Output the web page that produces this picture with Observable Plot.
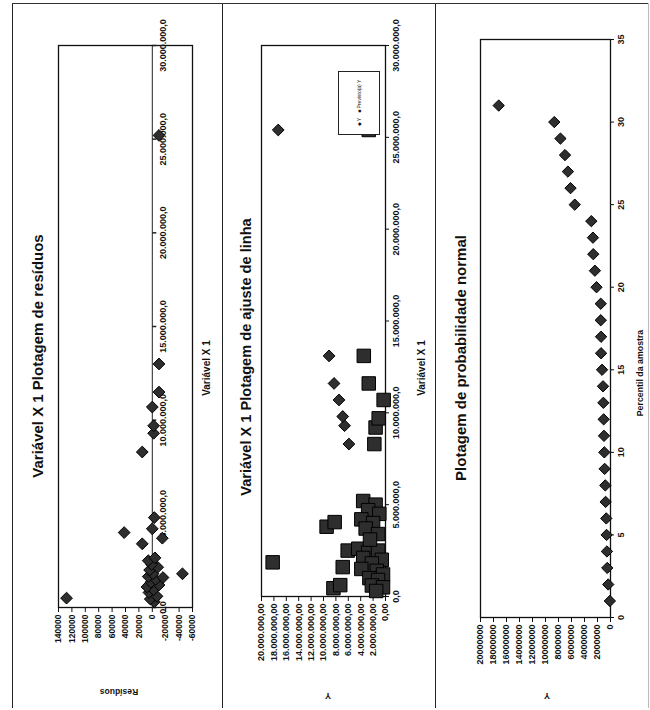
<!DOCTYPE html>
<html><head><meta charset="utf-8">
<script src="https://cdn.jsdelivr.net/npm/d3@7"></script>
<script src="https://cdn.jsdelivr.net/npm/@observablehq/plot@0.6"></script>
<style>
html,body{margin:0;padding:0;background:#fff;width:650px;height:710px;overflow:hidden;font-family:"Liberation Sans",Arial,sans-serif;}
#page{position:relative;width:650px;height:710px;background:#fff;}
.chart{position:absolute;top:3px;width:705px;transform-origin:0 0;transform:translate(0,705px) rotate(-90deg);background:#fff;}
.chart svg{position:absolute;left:0;top:0;}
.chart svg text{font-weight:bold;}
.lbl{position:absolute;white-space:nowrap;transform:translate(-50%,-50%);font-weight:bold;color:#111;line-height:1;}
.lbl.rot{transform:translate(-50%,-50%) rotate(-90deg);}
.vline{position:absolute;top:3px;height:705px;width:0;border-left:1.6px solid #222;}
.hline{position:absolute;left:12px;top:3px;width:636px;height:0;border-top:1.5px solid #333;}
.legend{position:absolute;border:1px solid #222;background:#fff;display:flex;align-items:center;justify-content:center;gap:5px;font-size:5px;color:#111;}
.legend span{white-space:nowrap;}
</style>
</head>
<body>
<div id="page"></div>
<script>
// ---------- DATA ----------
// Chart 1: Variável X 1 Plotagem de resíduos
const resX = [300000, 450000, 600000, 800000, 950000, 1100000, 1200000, 1350000, 1500000, 1650000,
  1800000, 2000000, 2150000, 2300000, 2500000, 2650000, 500000, 1800000, 1600000, 3400000,
  4000000, 4200000, 3700000, 4800000, 8300000, 9300000, 9700000, 10700000, 11500000, 13000000, 25200000];
const resVal = [-3000, 3000, -7000, 5000, -2000, 8000, -10000, 2000, -5000, 6000,
  -1000, 4000, -8000, 1000, 6000, -4000, 128000, -45000, -16000, 15000,
  42000, 0, -15000, -3000, 15000, -2000, -2000, 0, -10000, -10000, -10000];
const resXTicks = [0, 5000000, 10000000, 15000000, 20000000, 25000000, 30000000];
const resYTicks = [-60000, -40000, -20000, 0, 20000, 40000, 60000, 80000, 100000, 120000, 140000];

// Chart 2: Variável X 1 Plotagem de ajuste de linha
const fitYX = [8300000, 9300000, 9800000, 10700000, 11600000, 13100000, 25400000];
const fitY  = [5900000, 6600000, 6900000, 7500000, 8300000, 9100000, 17300000];
const fitPX = [1860000, 450000, 620000, 1600000, 2500000, 3800000, 4050000,
  8300000, 9200000, 9700000, 10700000, 11600000, 13100000, 25400000,
  2600000, 2400000, 2500000, 2100000, 2000000, 1800000, 1500000, 1400000, 1200000, 1000000, 900000, 600000, 500000, 300000,
  5200000, 5000000, 4700000, 4500000, 4200000, 4000000, 3700000, 3400000, 3100000];
const fitP  = [18200000, 8400000, 7300000, 6900000, 6100000, 9500000, 8200000,
  1800000, 1600000, 1100000, 300000, 2700000, 3500000, 2700000,
  4400000, 2800000, 1200000, 3600000, 600000, 2200000, 3900000, 1400000, 400000, 2600000, 1200000, 2200000, 400000, 1500000,
  3600000, 1600000, 2800000, 1000000, 3900000, 2000000, 3200000, 1200000, 2500000];
const fitXTicks = [0, 5000000, 10000000, 15000000, 20000000, 25000000, 30000000];
const fitYTicks = [0, 2000000, 4000000, 6000000, 8000000, 10000000, 12000000, 14000000, 16000000, 18000000, 20000000];
const fitSeries = ["Y", "Previsto(a) Y"];

// Chart 3: Plotagem de probabilidade normal
const pctl = [1, 2, 3, 4, 5, 6, 7, 8, 9, 10, 11, 12, 13, 14, 15, 16, 17, 18, 19, 20, 21, 22, 23, 24, 25, 26, 27, 28, 29, 30, 31];
const probY = [100000, 350000, 500000, 550000, 600000, 650000, 750000, 800000, 900000, 950000,
  1000000, 1050000, 1100000, 1150000, 1300000, 1450000, 1450000, 1500000, 1500000, 2150000,
  2400000, 2650000, 2700000, 2950000, 5500000, 6150000, 6550000, 7000000, 7700000, 8650000, 17200000];
const probXTicks = [0, 5, 10, 15, 20, 25, 30, 35];
const probYTicks = [0, 2000000, 4000000, 6000000, 8000000, 10000000, 12000000, 14000000, 16000000, 18000000, 20000000];

// ---------- HELPERS ----------
const ptBR = d3.formatLocale({decimal: ",", thousands: ".", grouping: [3], currency: ["R$", ""]});
const fmt1 = ptBR.format(",.1f");
const fmt2 = ptBR.format(",.2f");
const plain = d => String(d);
const FONT = '"Liberation Sans", Arial, sans-serif';
const W = 705;
const page = document.getElementById("page");
const tickDown = {draw(ctx) { ctx.moveTo(0, 0); ctx.lineTo(0, 4); }};
const markerFill = "#2e2e2e";

function makeChart(left, height, svg, labels) {
  const div = document.createElement("div");
  div.className = "chart";
  div.style.left = left + "px";
  div.style.height = height + "px";
  div.appendChild(svg);
  for (const l of labels) {
    const e = document.createElement("div");
    e.className = "lbl" + (l.rot ? " rot" : "");
    e.textContent = l.text;
    e.style.left = l.u + "px";
    e.style.top = l.v + "px";
    e.style.fontSize = l.size + "px";
    div.appendChild(e);
  }
  page.appendChild(div);
  return div;
}

function baseStyle(size) {
  return {fontFamily: FONT, fontSize: size + "px", color: "#111", background: "white", overflow: "visible"};
}

// ---------- CHART 1 ----------
const resData = resX.map((x, i) => ({x, r: resVal[i]}));
const c1 = Plot.plot({
  width: W, height: 210,
  marginLeft: 100, marginRight: 43, marginTop: 46, marginBottom: 30,
  style: baseStyle(8.5),
  x: {domain: [0, 30000000], axis: null},
  y: {domain: [-60000, 140000], ticks: resYTicks, tickFormat: plain, label: null, tickSize: 4, tickPadding: 3},
  marks: [
    Plot.frame({stroke: "#111", strokeWidth: 1.3}),
    Plot.ruleY([0], {stroke: "#222", strokeWidth: 1}),
    Plot.dot(resXTicks, {x: d => d, y: () => 0, symbol: tickDown, fill: "none", stroke: "#222"}),
    Plot.text(resXTicks, {x: d => d, y: () => 0, text: d => fmt1(d), dy: 11, fontSize: 9, fill: "#111"}),
    Plot.dot(resData, {x: "x", y: "r", symbol: "diamond2", r: 5.3, fill: markerFill, stroke: "#000", strokeWidth: 1})
  ]
});
makeChart(12, 210, c1, [
  {text: "Variável X 1 Plotagem de resíduos", u: 352, v: 25, size: 15},
  {text: "Variável X 1", u: 340, v: 195, size: 10},
  {text: "Resíduos", u: 16, v: 107, size: 8.5, rot: true}
]);

// ---------- CHART 2 ----------
const fitObs = fitYX.map((x, i) => ({x, y: fitY[i], s: fitSeries[0]}));
const fitPred = fitPX.map((x, i) => ({x, y: fitP[i], s: fitSeries[1]}));
const c2 = Plot.plot({
  width: W, height: 212,
  marginLeft: 111, marginRight: 43, marginTop: 38, marginBottom: 50,
  style: baseStyle(9),
  x: {domain: [0, 30000000], ticks: fitXTicks, tickFormat: fmt1, label: null, tickSize: 4, tickPadding: 3},
  y: {domain: [0, 20000000], ticks: fitYTicks, tickFormat: fmt2, label: null, tickSize: 4, tickPadding: 3},
  marks: [
    Plot.frame({stroke: "#111", strokeWidth: 1.3}),
    Plot.dot(fitObs, {x: "x", y: "y", symbol: "diamond2", r: 5.3, fill: markerFill, stroke: "#000", strokeWidth: 1}),
    Plot.dot(fitPred, {x: "x", y: "y", symbol: "square", r: 7.6, fill: markerFill, stroke: "#000", strokeWidth: 1})
  ]
});
const d2 = makeChart(223, 212, c2, [
  {text: "Variável X 1 Plotagem de ajuste de linha", u: 351, v: 23, size: 14.6},
  {text: "Variável X 1", u: 340, v: 199, size: 10},
  {text: "Y", u: 13, v: 105, size: 9, rot: true}
]);
const lg = document.createElement("div");
lg.className = "legend";
lg.style.left = "573px"; lg.style.top = "115px"; lg.style.width = "62px"; lg.style.height = "40px";
lg.innerHTML = `<span>&#9670; ${fitSeries[0]}</span><span>&#9632; ${fitSeries[1]}</span>`;
d2.appendChild(lg);

// ---------- CHART 3 ----------
const probData = pctl.map((p, i) => ({p, y: probY[i]}));
const c3 = Plot.plot({
  width: W, height: 213,
  marginLeft: 90, marginRight: 37, marginTop: 45, marginBottom: 38,
  style: baseStyle(9),
  x: {domain: [0, 35], ticks: probXTicks, tickFormat: plain, label: null, tickSize: 4, tickPadding: 3},
  y: {domain: [0, 20000000], ticks: probYTicks, tickFormat: plain, label: null, tickSize: 4, tickPadding: 3},
  marks: [
    Plot.frame({stroke: "#111", strokeWidth: 1.3}),
    Plot.dot(probData, {x: "p", y: "y", symbol: "diamond2", r: 5.1, fill: markerFill, stroke: "#000", strokeWidth: 1})
  ]
});
makeChart(435, 213, c3, [
  {text: "Plotagem de probabilidade normal", u: 350, v: 25, size: 15},
  {text: "Percentil da amostra", u: 335, v: 205, size: 8.8},
  {text: "Y", u: 13, v: 112, size: 9, rot: true}
]);

// ---------- PAGE FRAME ----------
for (const x of [12, 222, 435]) {
  const l = document.createElement("div");
  l.className = "vline"; l.style.left = x + "px";
  page.appendChild(l);
}
const r = document.createElement("div");
r.className = "vline"; r.style.left = "648px"; r.style.borderLeftColor = "#bbb"; r.style.borderLeftWidth = "1px";
page.appendChild(r);
const h = document.createElement("div");
h.className = "hline";
page.appendChild(h);
</script>
</body></html>
